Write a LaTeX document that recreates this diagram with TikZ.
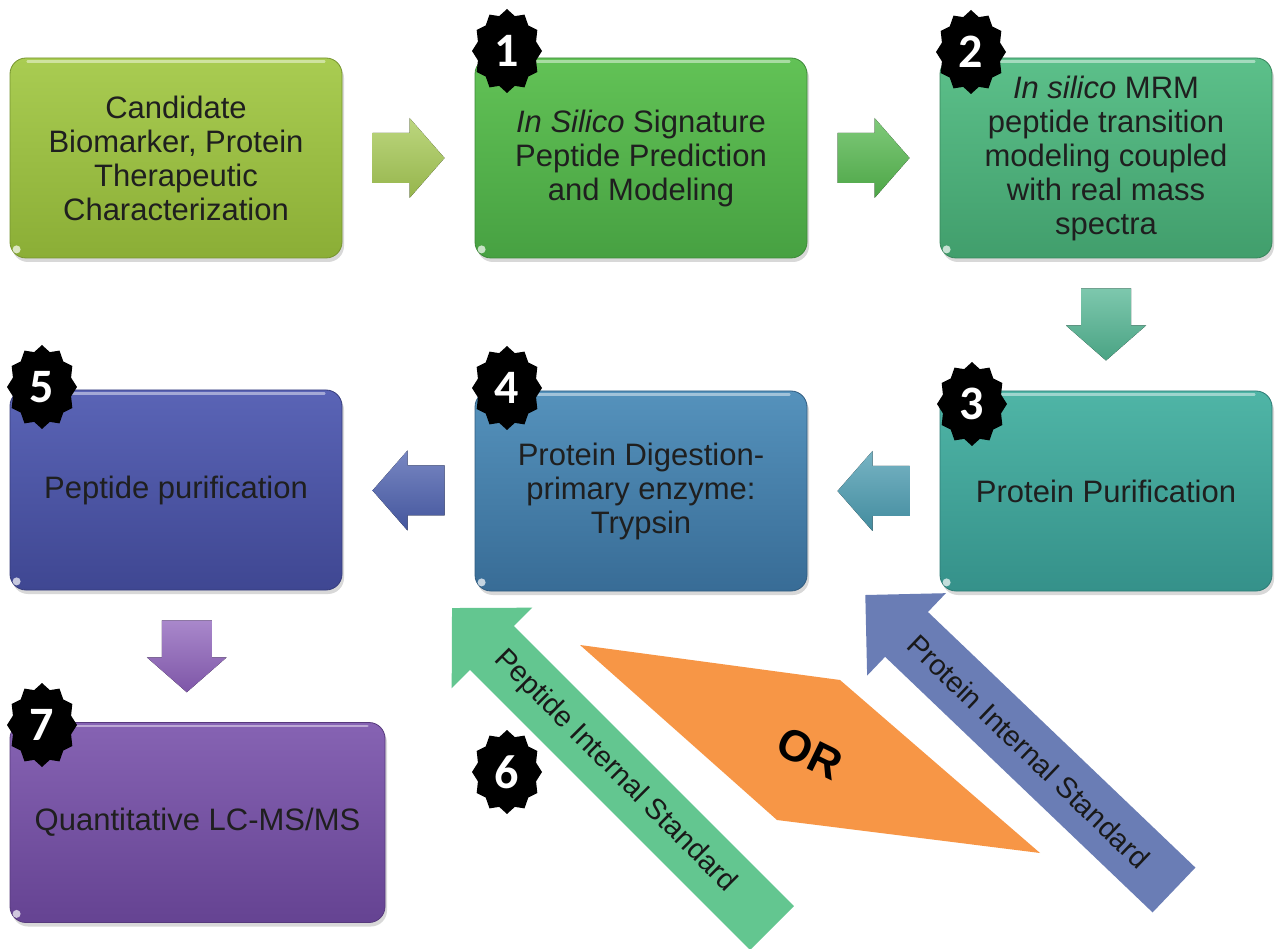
\documentclass[tikz,border=0pt]{standalone}
\usepackage{fontspec}
\setmainfont{Liberation Sans}
\newfontfamily\digitfont{Carlito}
\usetikzlibrary{shadows,calc}
\definecolor{cA1}{HTML}{A9CC52}\definecolor{cA2}{HTML}{8BAE36}
\definecolor{cB1}{HTML}{62C256}\definecolor{cB2}{HTML}{47A142}
\definecolor{cC1}{HTML}{5CC08A}\definecolor{cC2}{HTML}{419E6C}
\definecolor{cD1}{HTML}{4FB5A6}\definecolor{cD2}{HTML}{35918A}
\definecolor{cE1}{HTML}{5592BC}\definecolor{cE2}{HTML}{386C96}
\definecolor{cF1}{HTML}{5A64B6}\definecolor{cF2}{HTML}{3F4792}
\definecolor{cG1}{HTML}{8663B3}\definecolor{cG2}{HTML}{654392}
\definecolor{arA}{HTML}{A6C954}
\definecolor{arB}{HTML}{55B84E}
\definecolor{arC}{HTML}{52B592}
\definecolor{arD}{HTML}{4A9BB0}
\definecolor{arE}{HTML}{4B5FAE}
\definecolor{arF}{HTML}{8C60BA}
\definecolor{pisgreen}{HTML}{63C690}
\definecolor{prisblue}{HTML}{6A7DB5}
\definecolor{orfill}{HTML}{F79646}
\newcommand{\bxfont}{\fontsize{31}{34}\selectfont}
\newcommand{\diagfont}{\fontsize{29}{32}\selectfont}
\newcommand{\blockarrow}[3]{%
  \begin{scope}[shift={(#1)}, rotate=#2]
    \fill[top color=#3!75!white, bottom color=#3!90!black]
      (-36pt,-25pt) -- (1pt,-25pt) -- (1pt,-40pt) -- (36pt,0pt)
      -- (1pt,40pt) -- (1pt,25pt) -- (-36pt,25pt) -- cycle;
  \end{scope}}
\newcommand{\seal}[3]{%
  \begin{scope}[shift={(#2)}]
    \fill[black] (0,-42) \foreach \i [evaluate=\i as \r using {ifthenelse(mod(\i,2)==0,1,0.86)}] in {1,...,23} { -- ({-35*\r*sin(\i*15)},{-42*\r*cos(\i*15)}) } -- cycle;
  \end{scope}
  \node[numtext] (#1) at (#2) {#3};}
\newcommand{\gloss}[1]{%
  \draw[white, opacity=0.45, line width=2.5pt, line cap=round]
    ([xshift=18pt,yshift=-4pt]#1.north west) -- ([xshift=-18pt,yshift=-4pt]#1.north east);
  \fill[white, opacity=0.7] ([xshift=7pt,yshift=9pt]#1.south west) circle (4pt);}
\begin{document}
\begin{tikzpicture}[x=1pt,y=-1pt,
  box/.style 2 args={rounded corners=16pt, minimum width=332pt, minimum height=200pt,
     top color=#1, bottom color=#2, draw=#2!85!black, line width=0.8pt,
     align=center, font=\bxfont, text=black!88,
     drop shadow={shadow xshift=2pt,shadow yshift=-4pt,opacity=0.3}},
  numtext/.style={text=white, font=\digitfont\bfseries\fontsize{48}{48}\selectfont, inner sep=0pt},
  diagtext/.style={font=\diagfont, text=black!90}]
\useasboundingbox (0,0) rectangle (1278,949);
\fill[white] (0,0) rectangle (1278,949);

% boxes
\node[box={cA1}{cA2}] (b0) at (176,158) {Candidate\\Biomarker, Protein\\Therapeutic\\Characterization};
\node[box={cB1}{cB2}] (b1) at (641,158) {\textit{In Silico} Signature\\Peptide Prediction\\and Modeling};
\node[box={cC1}{cC2}] (b2) at (1106,158) {\textit{In silico} MRM\\peptide transition\\modeling coupled\\with real mass\\spectra};
\node[box={cD1}{cD2}] (b3) at (1106,491) {Protein Purification};
\node[box={cE1}{cE2}] (b4) at (641,491) {Protein Digestion-\\primary enzyme:\\Trypsin};
\node[box={cF1}{cF2}] (b5) at (176,490) {Peptide purification};
\node[box={cG1}{cG2}, minimum width=375pt] (b7) at (197.5,822.5) {Quantitative LC-MS/MS};
\foreach \b in {b0,b1,b2,b3,b4,b5,b7} {\gloss{\b}}

% block arrows between boxes
\coordinate (a01) at ($(b0.east)!0.5!(b1.west)$);
\coordinate (a12) at ($(b1.east)!0.5!(b2.west)$);
\coordinate (a23) at ($(b2.south)!0.5!(b3.north)$);
\coordinate (a34) at ($(b3.west)!0.5!(b4.east)$);
\coordinate (a45) at ($(b4.west)!0.5!(b5.east)$);
\coordinate (a57) at ($(b5.south)!0.5!(b7.north)$);
\blockarrow{a01}{0}{arA}
\blockarrow{a12}{0}{arB}
\blockarrow{a23}{-90}{arC}
\blockarrow{a34}{180}{arD}
\blockarrow{a45}{180}{arE}
\blockarrow{a57}{-90}{arF}

% OR shape
\coordinate (or1) at (580,645);
\coordinate (or2) at (840,680);
\coordinate (or3) at (1040,853);
\coordinate (or4) at (777,820);
\fill[orfill] (or1) -- (or2) -- (or3) -- (or4) -- cycle;
\node[rotate=-26, font=\bfseries\fontsize{44}{44}\selectfont] (ortext) at (810,753) {OR};

% diagonal arrows
\coordinate (pisTail) at (772,928);
\coordinate (pisTip) at (452,608);
\begin{scope}[shift={(pisTail)}, rotate=135]
  \fill[pisgreen] (0pt,-31pt) -- (396pt,-31pt) -- (396pt,-57pt) -- (452.5pt,0pt)
    -- (396pt,57pt) -- (396pt,31pt) -- (0pt,31pt) -- cycle;
\end{scope}
\node[diagtext, rotate=-45] (pistext) at ($(pisTail)!0.49!(pisTip)$) {Peptide Internal Standard};

\coordinate (prisTail) at (1174,890);
\coordinate (prisTip) at (865,595);
\begin{scope}[shift={(prisTail)}, rotate=136.3]
  \fill[prisblue] (0pt,-31pt) -- (370pt,-31pt) -- (370pt,-57pt) -- (427pt,0pt)
    -- (370pt,57pt) -- (370pt,31pt) -- (0pt,31pt) -- cycle;
\end{scope}
\node[diagtext, rotate=-43.7] (pristext) at ($(prisTail)!0.47!(prisTip)$) {Protein Internal Standard};

% badges
\seal{n1}{507,51}{1}
\seal{n2}{971,52}{2}
\seal{n3}{972,404}{3}
\seal{n4}{507,388}{4}
\seal{n5}{42,387}{5}
\seal{n6}{507,772}{6}
\seal{n7}{42,725}{7}
\end{tikzpicture}
\end{document}
